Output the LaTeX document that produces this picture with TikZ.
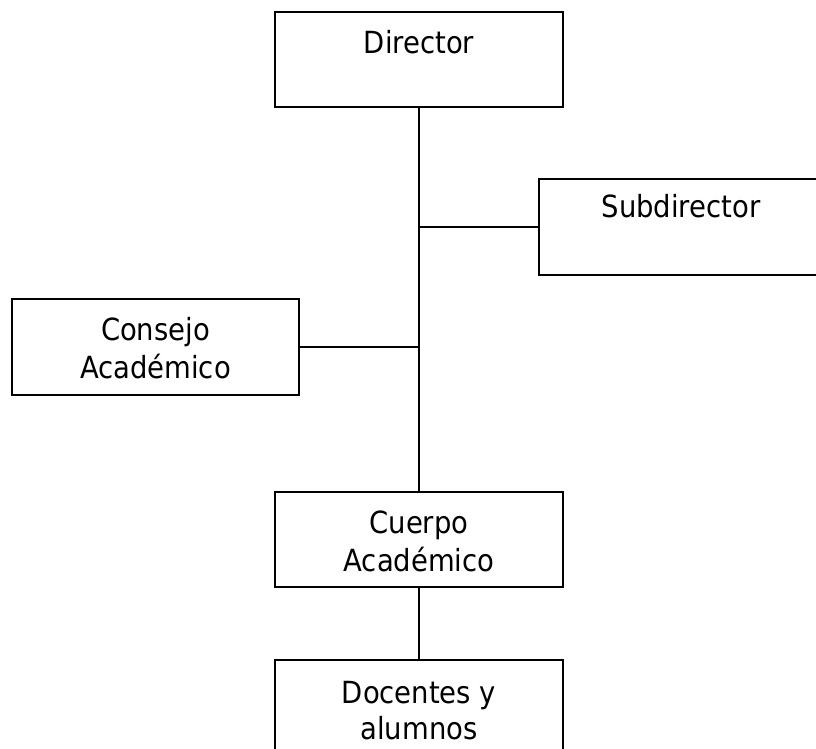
\documentclass[tikz,border=0pt]{standalone}
\usepackage{fontspec}
\setmainfont{DejaVu Sans Condensed}
\begin{document}
\begin{tikzpicture}[x=1pt,y=-1pt,
  box/.style={draw=black, line width=1.9pt, rectangle, inner sep=0pt, fill=white},
  lbl/.style={inner sep=0pt, anchor=north, align=center, font=\fontsize{30.5pt}{38pt}\selectfont},
  conn/.style={draw=black, line width=1.9pt}]
\useasboundingbox (0,0) rectangle (816,748);
\clip (0,0) rectangle (816,748);
% boxes
\node[box, minimum width=288pt, minimum height=95pt] (dir) at (419,59.5) {};
\node[box, minimum width=285pt, minimum height=96pt] (sub) at (681.5,227) {};
\node[box, minimum width=287pt, minimum height=96pt] (con) at (155.5,347) {};
\node[box, minimum width=288pt, minimum height=95pt] (cue) at (419,539.5) {};
\node[box, minimum width=288pt, minimum height=95pt] (doc) at (419,707.5) {};
% labels
\node[lbl] (tdir) at (419,30) {Director};
\node[lbl] (tsub) at (681,194) {Subdirector};
\node[lbl] (tcon) at (155.5,317) {Consejo\\Académico};
\node[lbl] (tcue) at (419,511) {Cuerpo\\Académico};
\node[lbl, font=\fontsize{30.5pt}{36pt}\selectfont] (tdoc) at (419,681) {Docentes y\\alumnos};
% connectors
\draw[conn] (dir.south) -- (cue.north);
\draw[conn] (sub.west) -- (sub.west -| dir.south);
\draw[conn] (con.east) -- (con.east -| dir.south);
\draw[conn] (cue.south) -- (doc.north);
\end{tikzpicture}
\end{document}
